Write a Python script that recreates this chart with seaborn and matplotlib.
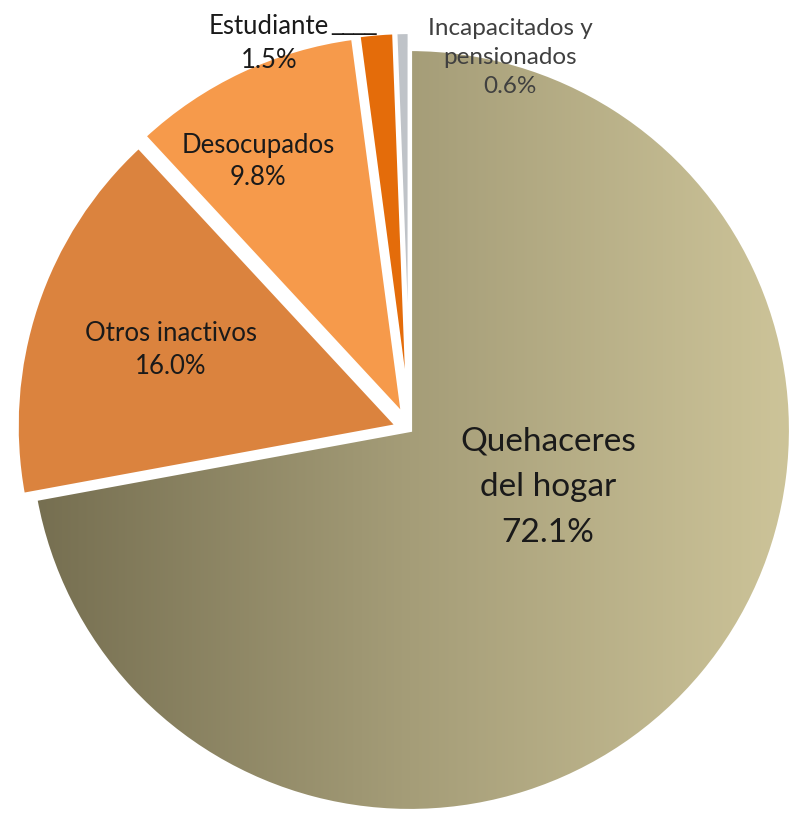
import numpy as np
import matplotlib
matplotlib.use("Agg")
import matplotlib.pyplot as plt
import seaborn as sns

# data
categorias = ["Quehaceres del hogar", "Otros inactivos", "Desocupados",
              "Estudiante", "Incapacitados y pensionados"]
porcentajes = [72.1, 16.0, 9.8, 1.5, 0.6]
colores = ["#a89f7a", "#db833e", "#f69a4b", "#e46c0a", "#bfc3c8"]
etiquetas = ["Quehaceres\ndel hogar\n72.1%", "Otros inactivos\n16.0%",
             "Desocupados\n9.8%", "Estudiante\n1.5%",
             "Incapacitados y\npensionados\n0.6%"]

sns.set_theme(style="white")
plt.rcParams["font.family"] = ["Lato", "DejaVu Sans"]

W, H = 794, 820
fig = plt.figure(figsize=(W / 100, H / 100), dpi=100)
ax = fig.add_axes([0, 0, 1, 1])

cx, cy, r = 410, H - 431, 381
# explode is in data units (pixels here)
wedges, _ = ax.pie(porcentajes, colors=colores, startangle=90, counterclock=False,
                   explode=[0, 13, 16, 17, 17], center=(cx, cy), radius=r,
                   wedgeprops=dict(edgecolor="white", linewidth=3))

# gradient fill for the main slice (dark left -> light right)
grad = np.linspace(0, 1, 256).reshape(1, -1)
cmap = matplotlib.colors.LinearSegmentedColormap.from_list(
    "hogar", ["#756e50", "#a59d78", "#cdc499"])
im = ax.imshow(grad, cmap=cmap, aspect="auto",
               extent=(cx - r, cx + r, cy - r, cy + r), zorder=wedges[0].get_zorder())
im.set_clip_path(wedges[0])
wedges[0].set_facecolor("none")
wedges[0].set_zorder(im.get_zorder() + 0.1)

ax.set_xlim(0, W)
ax.set_ylim(0, H)
ax.set_aspect("equal")
ax.axis("off")

# labels: (x centre, baseline of last line) in pixels
pos = [(548, 542), (171, 374), (258, 185), (269, 68), (510, 93)]
tam = [24, 18.5, 18.5, 18.5, 17.5]
esp = [1.65, 1.39, 1.35, 1.45, 1.46]
col = ["#1a1a1a", "#1a1a1a", "#1a1a1a", "#1a1a1a", "#404040"]
for txt, (x, y), s, ls, c in zip(etiquetas, pos, tam, esp, col):
    ax.text(x, H - y, txt, ha="center", va="baseline", fontsize=s, color=c,
            linespacing=ls)

# leader after "Estudiante" (solid underscores)
ax.text(331, H - 30, "____", ha="left", va="baseline", fontsize=16.5,
        color="#1a1a1a", family="DejaVu Sans")

fig.savefig("out.png", dpi=100)
